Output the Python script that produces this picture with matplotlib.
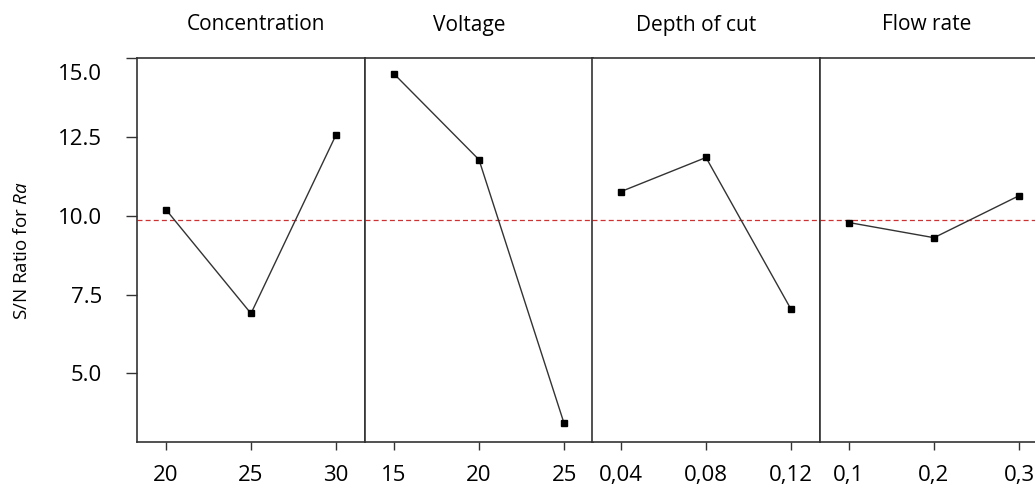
import matplotlib
matplotlib.use("Agg")
import matplotlib.pyplot as plt
import matplotlib.transforms as mtransforms

plt.rcParams['font.family'] = ['Open Sans', 'DejaVu Sans']
plt.rcParams['mathtext.fontset'] = 'custom'
plt.rcParams['mathtext.it'] = 'Open Sans:italic'
plt.rcParams['mathtext.rm'] = 'Open Sans'

factors = ["Concentration", "Voltage", "Depth of cut", "Flow rate"]
levels = [["20", "25", "30"],
          ["15", "20", "25"],
          ["0,04", "0,08", "0,12"],
          ["0,1", "0,2", "0,3"]]
sn_concentration = [10.19, 6.90, 12.56]
sn_voltage = [14.49, 11.77, 3.42]
sn_depth = [10.76, 11.84, 7.03]
sn_flow = [9.78, 9.30, 10.63]
series = [sn_concentration, sn_voltage, sn_depth, sn_flow]
overall_mean = 9.87
y_ticks = [5.0, 7.5, 10.0, 12.5, 15.0]

W, H = 1035, 486
fig = plt.figure(figsize=(W / 100, H / 100), dpi=100)

lefts = [137, 365, 592, 820]
title_x = [256, 469, 696, 927]
pw = 228
top, bottom = 57.7, 441.7

for i, (name, labs, vals) in enumerate(zip(factors, levels, series)):
    ax = fig.add_axes([lefts[i] / W, (H - bottom) / H, pw / W, (bottom - top) / H])
    x = list(range(len(vals)))
    ax.plot(x, vals, color='#333333', lw=1.0, marker='s', ms=4,
            mfc='black', mec='black', zorder=3)
    ax.axhline(overall_mean, color='#d03030', lw=0.9, ls=(0, (4, 2.5)), zorder=2)
    ax.set_xlim(-0.34, 2.34)
    ax.set_ylim(2.84, 15.0)
    ax.set_xticks(x)
    ax.set_xticklabels(labs, fontsize=16)
    ax.tick_params(axis='x', direction='out', length=6, width=1, pad=11, colors='#333333',
                   labelcolor='black')
    for sp in ax.spines.values():
        sp.set_color('#333333')
        sp.set_linewidth(1.2)
    fig.text(title_x[i] / W, 1 - 25 / H, name, ha='center', va='center', fontsize=15)
    if i == 0:
        ax.set_yticks(y_ticks)
        ax.set_yticklabels([f"{v:.1f}" for v in y_ticks], fontsize=16)
        ax.tick_params(axis='y', direction='out', length=8, width=1, pad=17, colors='#333333',
                       labelcolor='black')
        lab = ax.get_yticklabels()[-1]
        lab.set_transform(lab.get_transform() + mtransforms.ScaledTranslation(0, -14 / 100, fig.dpi_scale_trans))
    else:
        ax.set_yticks([])

fig.text(22 / W, 1 - 251 / H, r"S/N Ratio for $Ra$", rotation=90, ha='center', va='center',
         fontsize=13.5)

fig.savefig("out.png", dpi=100, facecolor='white')
